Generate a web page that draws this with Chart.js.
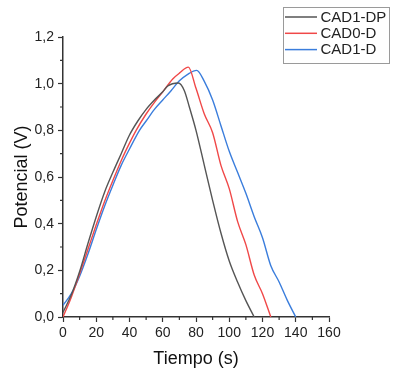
<!DOCTYPE html>
<html>
<head>
<meta charset="utf-8">
<script src="https://cdn.jsdelivr.net/npm/chart.js@4"></script>
<style>
  html, body { margin: 0; padding: 0; background: #fff; }
</style>
</head>
<body>
<canvas id="myChart" width="396" height="377"></canvas>
<script>
// data
var seriesNames = ['CAD1-DP', 'CAD0-D', 'CAD1-D'];

var dpTime = [0, 5, 10, 15, 20, 25, 30, 35, 40, 45, 50, 55, 60, 63, 69.4, 73, 76, 80, 85, 90, 95, 100, 105, 110, 115];
var dpVolt = [0.02, 0.095, 0.195, 0.315, 0.43, 0.535, 0.62, 0.7, 0.78, 0.84, 0.89, 0.93, 0.965, 0.99, 1.003, 0.97, 0.9, 0.8, 0.65, 0.5, 0.36, 0.24, 0.15, 0.07, 0];

var d0Time = [0, 5, 10, 15, 20, 25, 30, 35, 40, 44, 50, 55, 60, 66, 70, 75.4, 80, 85, 90, 95, 100, 105, 110, 115, 120, 125];
var d0Volt = [0, 0.085, 0.185, 0.29, 0.395, 0.495, 0.585, 0.67, 0.745, 0.8, 0.87, 0.92, 0.965, 1.02, 1.045, 1.071, 0.98, 0.87, 0.79, 0.65, 0.55, 0.41, 0.31, 0.18, 0.1, 0];

var d1Time = [0, 5, 10, 15, 20, 25, 30, 35, 40, 46, 50, 55, 60, 65, 70, 75, 80.4, 85, 90, 95, 100, 105, 110, 115, 120, 125, 130, 135, 140];
var d1Volt = [0.05, 0.1, 0.175, 0.27, 0.375, 0.475, 0.565, 0.65, 0.72, 0.8, 0.84, 0.89, 0.93, 0.97, 1.012, 1.04, 1.057, 1.01, 0.93, 0.82, 0.71, 0.62, 0.53, 0.43, 0.34, 0.22, 0.15, 0.07, 0];

var colors = ['#555555', '#f04848', '#3a7ddc'];

function toPoints(xs, ys) {
  var pts = [];
  for (var i = 0; i < xs.length; i++) pts.push({ x: xs[i], y: ys[i] });
  return pts;
}

var axisColor = '#333333';
var fontFamily = '"Liberation Sans", Arial, sans-serif';

// small ticks between the labelled ones
var minorTicks = {
  id: 'minorTicks',
  afterDraw: function (chart) {
    var c = chart.ctx;
    var xs = chart.scales.x, ys = chart.scales.y;
    c.save();
    c.strokeStyle = axisColor;
    c.lineWidth = 1.2;
    c.beginPath();
    for (var v = 10; v < 160; v += 20) {
      var px = xs.getPixelForValue(v);
      c.moveTo(px, chart.chartArea.bottom);
      c.lineTo(px, chart.chartArea.bottom + 3);
    }
    for (var w = 0.1; w < 1.2; w += 0.2) {
      var py = ys.getPixelForValue(w);
      c.moveTo(chart.chartArea.left, py);
      c.lineTo(chart.chartArea.left - 3, py);
    }
    c.stroke();
    c.restore();
  }
};

// boxed legend above the plot, top right
var boxLegend = {
  id: 'boxLegend',
  afterDraw: function (chart) {
    var c = chart.ctx;
    c.save();
    c.strokeStyle = '#9a9a9a';
    c.lineWidth = 1;
    c.strokeRect(283.5, 7.5, 106, 56);
    c.font = '15px ' + fontFamily;
    c.textBaseline = 'middle';
    chart.data.datasets.forEach(function (ds, i) {
      var y = 17 + i * 16.3;
      c.strokeStyle = ds.borderColor;
      c.lineWidth = 1.5;
      c.beginPath();
      c.moveTo(285, y);
      c.lineTo(317, y);
      c.stroke();
      c.fillStyle = '#222';
      c.fillText(ds.label, 320.5, y + 0.5);
    });
    c.restore();
  }
};

var ctx = document.getElementById('myChart').getContext('2d');
new Chart(ctx, {
  type: 'line',
  data: {
    datasets: [
      { label: seriesNames[0], data: toPoints(dpTime, dpVolt), borderColor: colors[0] },
      { label: seriesNames[1], data: toPoints(d0Time, d0Volt), borderColor: colors[1] },
      { label: seriesNames[2], data: toPoints(d1Time, d1Volt), borderColor: colors[2] }
    ]
  },
  options: {
    responsive: false,
    animation: false,
    layout: { padding: { top: 37, right: 67, left: 0, bottom: 0 } },
    elements: {
      point: { radius: 0 },
      line: { borderWidth: 1.4, cubicInterpolationMode: 'monotone' }
    },
    plugins: {
      legend: { display: false },
      tooltip: { enabled: false }
    },
    scales: {
      x: {
        type: 'linear',
        min: 0,
        max: 160,
        afterFit: function (s) { s.height = 60; },
        border: { color: axisColor, width: 1.5 },
        grid: { drawOnChartArea: false, drawTicks: true, tickLength: 5, tickColor: axisColor, tickWidth: 1.2 },
        ticks: { stepSize: 20, padding: 3, color: '#222', font: { family: fontFamily, size: 14 }, maxRotation: 0 },
        title: { display: true, text: 'Tiempo (s)', color: '#111', font: { family: fontFamily, size: 18 }, padding: { top: 0, bottom: 7 } }
      },
      y: {
        min: 0,
        max: 1.2,
        afterFit: function (s) { s.width = 63; },
        border: { color: axisColor, width: 1.5 },
        grid: { drawOnChartArea: false, drawTicks: true, tickLength: 5, tickColor: axisColor, tickWidth: 1.2 },
        ticks: {
          stepSize: 0.2,
          padding: 4,
          color: '#222',
          font: { family: fontFamily, size: 14 },
          callback: function (v) { return v.toFixed(1).replace('.', ','); }
        },
        title: { display: true, text: 'Potencial (V)', color: '#111', font: { family: fontFamily, size: 18 }, padding: { top: 11, bottom: 0 } }
      }
    }
  },
  plugins: [minorTicks, boxLegend]
});
</script>
</body>
</html>
